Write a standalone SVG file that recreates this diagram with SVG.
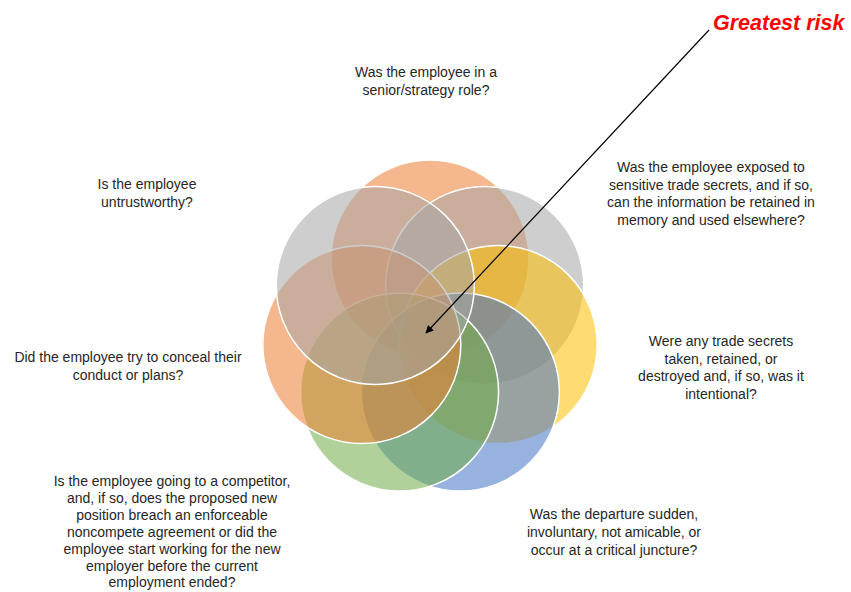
<svg xmlns="http://www.w3.org/2000/svg" width="851" height="592" viewBox="0 0 851 592">
<style>
.c{stroke:#ffffff;stroke-width:1.5;fill-opacity:0.55}
.t{font-family:"Liberation Sans",Arial,sans-serif;font-size:14px;fill:#262626;text-anchor:middle}
.risk{font-family:"Liberation Sans",Arial,sans-serif;font-size:21.5px;font-weight:bold;font-style:italic;fill:#ff0000}
.conn{stroke:#000000;stroke-width:1.2;fill:none}
</style>
<defs>
<marker id="ah" viewBox="0 0 10 10" refX="9" refY="5" markerWidth="8" markerHeight="8" markerUnits="userSpaceOnUse" orient="auto">
<path d="M0,0 L10,5 L0,10 z" fill="#000000"/>
</marker>
</defs>
<rect width="851" height="592" fill="#ffffff"/>
<g id="circles">
<g id="c-top"><circle class="c" cx="430" cy="259" r="99" fill="#ED7D31"/></g>
<g id="c-topright"><circle class="c" cx="484.7" cy="285.4" r="99" fill="#A5A5A5"/></g>
<g id="c-right"><circle class="c" cx="498.2" cy="344.6" r="99" fill="#FFC000"/></g>
<g id="c-bottomright"><circle class="c" cx="460.4" cy="392.1" r="99" fill="#4472C4"/></g>
<g id="c-bottomleft"><circle class="c" cx="399.6" cy="392.1" r="99" fill="#70AD47"/></g>
<g id="c-left"><circle class="c" cx="361.8" cy="344.6" r="99" fill="#ED7D31"/></g>
<g id="c-topleft"><circle class="c" cx="375.3" cy="285.4" r="99" fill="#A5A5A5"/></g>
</g>
<g id="n-senior">
<text class="t" x="426" y="77">Was the employee in a</text>
<text class="t" x="426" y="95">senior/strategy role?</text>
</g>
<g id="n-untrust">
<text class="t" x="147" y="189">Is the employee</text>
<text class="t" x="147" y="207">untrustworthy?</text>
</g>
<g id="n-conceal">
<text class="t" x="128" y="362">Did the employee try to conceal their</text>
<text class="t" x="128" y="380">conduct or plans?</text>
</g>
<g id="n-exposed">
<text class="t" x="711" y="172">Was the employee exposed to</text>
<text class="t" x="711" y="189.5">sensitive trade secrets, and if so,</text>
<text class="t" x="711" y="207">can the information be retained in</text>
<text class="t" x="711" y="224.5">memory and used elsewhere?</text>
</g>
<g id="n-taken">
<text class="t" x="721" y="346">Were any trade secrets</text>
<text class="t" x="721" y="363.5">taken, retained, or</text>
<text class="t" x="721" y="381">destroyed and, if so, was it</text>
<text class="t" x="721" y="398.5">intentional?</text>
</g>
<g id="n-departure">
<text class="t" x="614" y="519">Was the departure sudden,</text>
<text class="t" x="614" y="537">involuntary, not amicable, or</text>
<text class="t" x="614" y="555">occur at a critical juncture?</text>
</g>
<g id="n-competitor">
<text class="t" x="172" y="486">Is the employee going to a competitor,</text>
<text class="t" x="172" y="503">and, if so, does the proposed new</text>
<text class="t" x="172" y="520">position breach an enforceable</text>
<text class="t" x="172" y="537">noncompete agreement or did the</text>
<text class="t" x="172" y="554">employee start working for the new</text>
<text class="t" x="172" y="571">employer before the current</text>
<text class="t" x="172" y="587">employment ended?</text>
</g>
<g id="n-greatest">
<text class="risk" x="713" y="30">Greatest risk</text>
</g>
<g id="connectors">
<line class="conn" x1="709" y1="30" x2="426" y2="333" marker-end="url(#ah)"/>
</g>
</svg>
